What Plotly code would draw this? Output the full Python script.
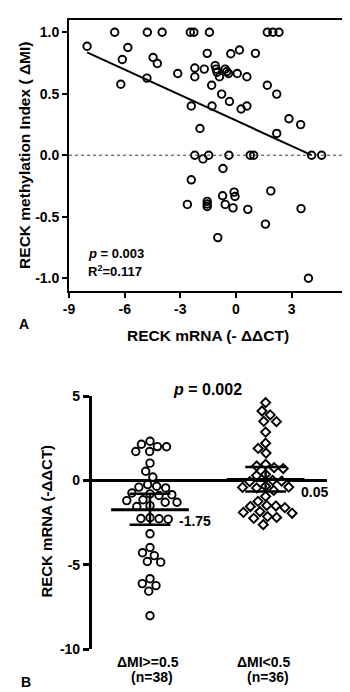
import numpy as np
import plotly.graph_objects as go

W, H = 350, 692

# ---------------- Panel A data ----------------
mrna_a = [-6.54, -4.78, -3.98, -2.46, -2.27, -1.43, 1.69, 1.99, 2.32,
          -8.03, -5.83, -6.13, -6.21, -4.47, -4.24, -4.80, -3.14, -2.22, -2.22,
          -1.55, -1.71, -1.12, -1.07, -1.02, -0.89, -1.31, -0.58, -0.49, -0.40,
          -0.28, 0.19, 0.07, 1.05, 0.59, -0.77, -0.35, -1.29, -2.41, 0.28,
          0.59, 1.69, 2.20, 2.86, 3.49, 2.20, -1.94,
          -2.22, -1.47, -1.78, -0.38, 0.77, 0.96, 4.08, 4.62,
          -0.70, -2.41, -0.10, -0.05, 1.88, -0.72, -2.62, -1.55, -1.55, -1.55,
          -0.58, -0.16, 0.64, 3.51, 1.59, -0.98, 3.91]
dmi_a = [1.0, 1.0, 1.0, 1.0, 1.0, 1.0, 1.0, 1.0, 1.0,
         0.886, 0.876, 0.778, 0.577, 0.794, 0.746, 0.627, 0.664, 0.709, 0.638,
         0.828, 0.70, 0.728, 0.70, 0.675, 0.638, 0.569, 0.70, 0.68, 0.664,
         0.825, 0.855, 0.664, 0.828, 0.638, 0.497, 0.437, 0.40, 0.40, 0.376,
         0.40, 0.569, 0.497, 0.296, 0.249, 0.177, 0.217,
         0.0, 0.0, -0.03, 0.0, 0.0, 0.0, 0.0, 0.0,
         -0.108, -0.20, -0.30, -0.336, -0.29, -0.33, -0.40, -0.375, -0.397, -0.417,
         -0.40, -0.428, -0.44, -0.434, -0.56, -0.67, -1.0]
fit_slope = -0.069
fit_intercept = 0.282
fit_x_range = [-8.03, 4.08]
a_xticks = [-9, -6, -3, 0, 3, 6]
a_xticklabels = ["-9", "-6", "-3", "0", "3", "6"]
a_yticks = [-1.0, -0.5, 0.0, 0.5, 1.0]
a_yticklabels = ["-1.0", "-0.5", "0.0", "0.5", "1.0"]
a_p_text = "p"
a_p_value = "= 0.003"
a_r2_value = "0.117"

# ---------------- Panel B data ----------------
groups = ["\u0394MI>=0.5", "\u0394MI<0.5"]
group_n = ["(n=38)", "(n=36)"]
high_mi = [2.32, 2.14, 2.0, 1.99, 1.71, 1.71, 1.02, 0.54, 0.2,
           -0.25, -0.35, -0.4, -0.45, -0.75, -0.8, -0.85, -0.9, -1.15, -1.2,
           -1.3, -1.3, -1.5, -1.55, -2.22, -2.26, -2.28, -2.3,
           -3.17, -3.98, -4.29, -4.46, -4.81, -4.85, -5.83, -6.12, -6.24, -6.57, -8.03]
low_mi = [4.61, 4.11, 3.88, 3.50, 3.48, 2.86, 2.20, 1.89, 1.62,
          0.95, 0.85, 0.75, 0.70, 0.35, 0.28, 0.0, -0.05, -0.08,
          -0.35, -0.4, -0.42, -0.45, -0.6, -0.95, -1.25,
          -1.49, -1.52, -1.55, -1.62, -1.85, -1.9, -1.95, -2.15, -2.2, -2.25, -2.63]
group_center = [-1.75, 0.05]
group_lower = [-2.63, -0.66]
group_upper = [-0.79, 0.79]
center_labels = ["-1.75", "0.05"]
b_yticks = [-10, -5, 0, 5]
b_yticklabels = ["-10", "-5", "0", "5"]
b_p_value = "= 0.002"

FONT = "Liberation Sans, Arial, sans-serif"

# layout geometry (pixels)
ax_l, ax_r, ax_t, ax_b = 56.7, 343.0, 4.0, 281.0
a_xr = [-9, 6]
a_yr = [-1.1, 1.1]
bx_l, bx_r = 80.0, 322.0
b_top, b_bot = 389.0, 648.0
b_xr = [1 - 60 / 119.0, 2 + 63 / 119.0]
b_yr = [-10, 5]

fig = go.Figure()

# Panel A scatter
fig.add_trace(go.Scatter(
    x=mrna_a, y=dmi_a, mode="markers", xaxis="x", yaxis="y",
    marker=dict(symbol="circle-open", size=7.5, color="black",
                line=dict(width=1.9, color="black")),
    showlegend=False, hoverinfo="skip"))
fx = np.array(fit_x_range)
fig.add_trace(go.Scatter(
    x=fx, y=fit_intercept + fit_slope * fx, mode="lines", xaxis="x", yaxis="y",
    line=dict(color="black", width=2), showlegend=False, hoverinfo="skip"))

# Panel B beeswarm
px_x = (bx_r - bx_l) / (b_xr[1] - b_xr[0])
px_y = (b_bot - b_top) / (b_yr[1] - b_yr[0])


def swarm(vals, center, diam=9.4):
    order = np.argsort(-np.array(vals))
    placed = []
    xs = [0.0] * len(vals)
    for i in order:
        yp = -vals[i] * px_y
        cands = [0.0]
        for (xq, yq) in placed:
            dy = abs(yp - yq)
            if dy < diam:
                dx = np.sqrt(diam ** 2 - dy ** 2)
                cands += [xq + dx, xq - dx]
        cands = sorted(cands, key=lambda c: (abs(c), c))
        for c in cands:
            ok = all((c - xq) ** 2 + (yp - yq) ** 2 >= diam ** 2 - 1e-6 for (xq, yq) in placed)
            if ok:
                xs[i] = c
                placed.append((c, yp))
                break
    return [center + v / px_x for v in xs]


for gi, (vals, sym, sz) in enumerate([(high_mi, "circle", 7.5), (low_mi, "diamond", 7.0)]):
    xs = swarm(vals, gi + 1)
    fig.add_trace(go.Scatter(
        x=xs, y=vals, mode="markers", xaxis="x2", yaxis="y2",
        marker=dict(symbol=sym, size=sz, color="white",
                    line=dict(width=1.9, color="black")),
        showlegend=False, hoverinfo="skip"))

shapes = []
# dotted zero line in panel A
shapes.append(dict(type="line", xref="x", yref="y", x0=a_xr[0], x1=a_xr[1], y0=0, y1=0,
                   line=dict(color="#333333", width=1, dash="dot")))
for gi in range(2):
    c = gi + 1
    cap = 21 / px_x
    mean_w = 40 / px_x
    shapes.append(dict(type="line", xref="x2", yref="y2", x0=c, x1=c,
                       y0=group_lower[gi], y1=group_upper[gi], line=dict(color="black", width=2.5)))
    for yv in (group_lower[gi], group_upper[gi]):
        shapes.append(dict(type="line", xref="x2", yref="y2", x0=c - cap, x1=c + cap,
                           y0=yv, y1=yv, line=dict(color="black", width=2.5)))
    shapes.append(dict(type="line", xref="x2", yref="y2", x0=c - mean_w, x1=c + mean_w,
                       y0=group_center[gi], y1=group_center[gi], line=dict(color="black", width=3)))

bold = dict(family=FONT, color="black", weight="bold")


def F(size):
    d = dict(bold)
    d["size"] = size
    return d


ann = []
# panel A axis titles
ann.append(dict(text="RECK methylation Index ( \u0394MI)", xref="paper", yref="paper",
                x=11 / W, y=1 - 142.5 / H, textangle=-90, showarrow=False, font=F(15.5),
                xanchor="center", yanchor="middle"))
ann.append(dict(text="RECK mRNA (- \u0394\u0394CT)", xref="paper", yref="paper",
                x=200 / W, y=1 - 327 / H, showarrow=False, font=F(15.5),
                xanchor="center", yanchor="middle"))
ann.append(dict(text="<i>" + a_p_text + "</i> " + a_p_value, xref="paper", yref="paper",
                x=74 / W, y=1 - 243 / H, showarrow=False, font=F(13),
                xanchor="left", yanchor="middle"))
ann.append(dict(text="R<sup>2</sup>=" + a_r2_value, xref="paper", yref="paper",
                x=74 / W, y=1 - 261 / H, showarrow=False, font=F(13),
                xanchor="left", yanchor="middle"))
ann.append(dict(text="A", xref="paper", yref="paper", x=3 / W, y=1 - 315 / H,
                showarrow=False, font=F(14), xanchor="left", yanchor="middle"))
ann.append(dict(text="B", xref="paper", yref="paper", x=5 / W, y=1 - 682 / H,
                showarrow=False, font=F(14), xanchor="left", yanchor="middle"))
# panel B
ann.append(dict(text="<i>p</i> " + b_p_value, xref="paper", yref="paper",
                x=199 / W, y=1 - 382 / H, showarrow=False, font=F(16),
                xanchor="center", yanchor="middle"))
ann.append(dict(text="RECK mRNA (-\u0394\u0394CT)", xref="paper", yref="paper",
                x=34 / W, y=1 - 517.5 / H, textangle=-90, showarrow=False, font=F(15),
                xanchor="center", yanchor="middle"))
ann.append(dict(text=center_labels[0], xref="x2", yref="y2", x=1 + 28 / px_x,
                y=-2.42, showarrow=False, font=F(14), xanchor="left", yanchor="middle"))
ann.append(dict(text=center_labels[1], xref="x2", yref="y2", x=2 + 34 / px_x,
                y=-0.68, showarrow=False, font=F(14), xanchor="left", yanchor="middle"))
for gi in range(2):
    ann.append(dict(text=groups[gi], xref="x2", yref="paper", x=gi + 1 - 2.5 / px_x,
                    y=1 - 661 / H, showarrow=False, font=F(14), xanchor="center", yanchor="middle"))
    ann.append(dict(text=group_n[gi], xref="x2", yref="paper", x=gi + 1 + 2 / px_x,
                    y=1 - 677 / H, showarrow=False, font=F(14), xanchor="center", yanchor="middle"))

fig.update_layout(
    width=W, height=H, margin=dict(l=0, r=0, t=0, b=0),
    paper_bgcolor="white", plot_bgcolor="white",
    showlegend=False, shapes=shapes, annotations=ann,
    xaxis=dict(domain=[ax_l / W, ax_r / W], range=a_xr, anchor="y",
               showline=True, mirror=True, linecolor="black", linewidth=2,
               ticks="outside", ticklen=5, tickwidth=2, tickcolor="black",
               tickvals=a_xticks, ticktext=a_xticklabels, tickfont=F(14),
               showgrid=False, zeroline=False),
    yaxis=dict(domain=[1 - ax_b / H, 1 - ax_t / H], range=a_yr, anchor="x",
               showline=True, mirror=True, linecolor="black", linewidth=2,
               ticks="outside", ticklen=5, tickwidth=2, tickcolor="black",
               tickvals=a_yticks, ticktext=a_yticklabels, tickfont=F(14),
               showgrid=False, zeroline=False),
    xaxis2=dict(domain=[bx_l / W, bx_r / W], range=b_xr, anchor="y2",
                showline=False, showticklabels=False, ticks="",
                showgrid=False, zeroline=False),
    yaxis2=dict(domain=[1 - b_bot / H, 1 - b_top / H], range=b_yr, anchor="x2",
                showline=True, linecolor="black", linewidth=2.5,
                ticks="outside", ticklen=6, tickwidth=2.5, tickcolor="black",
                tickvals=b_yticks, ticktext=b_yticklabels, tickfont=F(14),
                showgrid=False, zeroline=True, zerolinecolor="black", zerolinewidth=2.5),
)

fig.write_html("out.html")
